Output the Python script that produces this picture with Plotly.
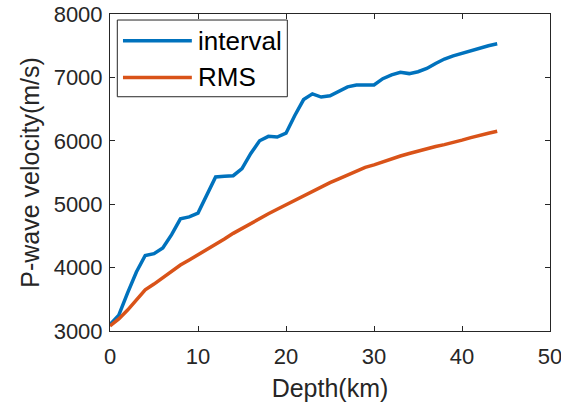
import plotly.graph_objects as go

# Depth samples (km)
depth = list(range(0, 45))

# Interval P-wave velocity (m/s)
interval_v = [3100, 3250, 3600, 3930, 4190, 4220, 4310, 4520, 4770, 4800,
              4860, 5150, 5430, 5440, 5450, 5560, 5800, 6000, 6070, 6060,
              6120, 6400, 6650, 6740, 6690, 6710, 6780, 6850, 6880, 6880,
              6880, 6980, 7040, 7080, 7060, 7090, 7140, 7220, 7290, 7340,
              7380, 7430, 7470, 7500, 7530]

# RMS P-wave velocity (m/s)
rms_v = [3080, 3190, 3330, 3490, 3650, 3740, 3840, 3950, 4040, 4120,
         4200, 4280, 4360, 4450, 4540, 4620, 4700, 4780, 4850, 4920,
         4990, 5060, 5130, 5210, 5280, 5340, 5400, 5460, 5520, 5580,
         5620, 5670, 5710, 5760, 5800, 5840, 5870, 5910, 5940, 5970,
         6010, 6050, 6090, 6120, 6150]

series_names = ["interval", "RMS"]
series_colors = ["#0072BD", "#D95319"]

x_ticks = [0, 10, 20, 30, 40, 50]
y_ticks = [3000, 4000, 5000, 6000, 7000, 8000]

FONT = "Liberation Sans, Arial, Helvetica, sans-serif"
AX_COLOR = "#262626"

fig = go.Figure()
for vals, name, color in zip([interval_v, rms_v], series_names, series_colors):
    fig.add_trace(go.Scatter(x=depth, y=vals, mode="lines", name=name,
                             line=dict(color=color, width=3.5),
                             showlegend=False))

axis_common = dict(showline=True, linecolor=AX_COLOR, linewidth=1, mirror="allticks",
                   ticks="inside", ticklen=5, tickwidth=1, tickcolor=AX_COLOR,
                   showgrid=False, zeroline=False, automargin=False,
                   ticklabeloverflow="allow",
                   tickfont=dict(family=FONT, size=22, color=AX_COLOR))

fig.update_xaxes(range=[0, 50], tickvals=x_ticks, ticktext=[str(t) for t in x_ticks],
                 ticklabelstandoff=6,
                 title=dict(text="Depth(km)", font=dict(family=FONT, size=25, color=AX_COLOR),
                            standoff=11),
                 **axis_common)
fig.update_yaxes(range=[3000, 8000], tickvals=y_ticks, ticktext=[str(t) for t in y_ticks],
                 ticklabelstandoff=2,
                 title=dict(text="P-wave velocity(m/s)", font=dict(family=FONT, size=25, color=AX_COLOR),
                            standoff=6),
                 **axis_common)

# Boxed legend in the upper-left corner with long line samples
shapes = [dict(type="rect", xref="paper", yref="paper", x0=0.0166, x1=0.403, y0=0.739, y1=0.981,
               line=dict(color=AX_COLOR, width=1), fillcolor="white", layer="above")]
annotations = []
for (yy, name, color) in zip([0.916, 0.800], series_names, series_colors):
    shapes.append(dict(type="line", xref="paper", yref="paper", x0=0.0295, x1=0.186, y0=yy, y1=yy,
                       line=dict(color=color, width=3.5), layer="above"))
    annotations.append(dict(xref="paper", yref="paper", x=0.196, y=yy, text=name, showarrow=False,
                            xanchor="left", yanchor="middle",
                            font=dict(family=FONT, size=26, color="#000000")))

fig.update_layout(width=561, height=410, margin=dict(l=110, r=11, t=14, b=79),
                  paper_bgcolor="white", plot_bgcolor="white",
                  shapes=shapes, annotations=annotations, showlegend=False)

fig.write_html("out.html")
